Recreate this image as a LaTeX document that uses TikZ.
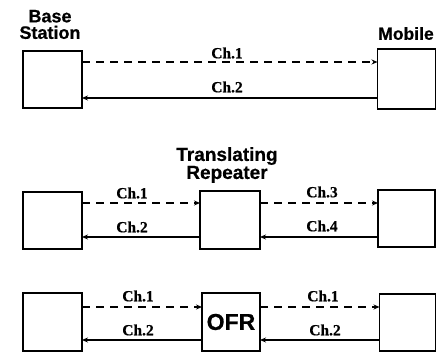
\documentclass[tikz,border=0pt]{standalone}
\usepackage{fontspec}
\setmainfont{Liberation Serif}
\newfontfamily\headfont[FakeBold=0.6]{Liberation Sans Bold}
\newfontfamily\chfont[FakeBold=0.4]{Liberation Serif Bold}
\usetikzlibrary{arrows.meta}
\begin{document}
\begin{tikzpicture}[x=1pt,y=-1pt,
  unit/.style={draw,line width=1.7pt,inner sep=0pt,outer sep=0pt},
  fwd/.style={line width=1.9pt,dash pattern=on 8pt off 6pt,-{Stealth[length=6pt,width=5pt]}},
  bwd/.style={line width=1.9pt,-{Stealth[length=6pt,width=5pt]}},
  chlab/.style={font=\chfont\fontsize{15.5}{16}\selectfont,inner sep=0pt},
  head/.style={font=\headfont\fontsize{18}{16.5}\selectfont,align=center,inner sep=0pt}]
\useasboundingbox (0,0) rectangle (436,352);
% row 1
\node[unit,minimum width=59pt,minimum height=57pt] (b1) at (52.5,79.5) {};
\node[unit,minimum width=58pt,minimum height=60pt] (m1) at (406.5,79) {};
\node[head] (bs) at (50,24.5) {Base\\Station};
\node[head,font=\headfont\fontsize{17.5}{15}\selectfont] (mob) at (406,33.5) {Mobile};
\draw[fwd] (b1.east |- 0,62) -- (m1.west |- 0,62);
\draw[bwd] (m1.west |- 0,98) -- (b1.east |- 0,98);
\node[chlab] (l11) at (227,53) {Ch.1};
\node[chlab] (l12) at (227,87) {Ch.2};
% row 2
\node[unit,minimum width=59pt,minimum height=57pt] (b2) at (52.5,220.5) {};
\node[unit,minimum width=60pt,minimum height=58pt] (r2) at (230,220) {};
\node[unit,minimum width=57pt,minimum height=57pt] (m2) at (406.5,218.5) {};
\node[head,font=\headfont\fontsize{19}{18}\selectfont] (tr) at (227,165) {Translating\\Repeater};
\draw[fwd] (b2.east |- 0,203) -- (r2.west |- 0,203);
\draw[fwd] (r2.east |- 0,203) -- (m2.west |- 0,203);
\draw[bwd] (r2.west |- 0,237) -- (b2.east |- 0,237);
\draw[bwd] (m2.west |- 0,237) -- (r2.east |- 0,237);
\node[chlab] (l21) at (132,193) {Ch.1};
\node[chlab] (l22) at (132,227) {Ch.2};
\node[chlab] (l23) at (322,192) {Ch.3};
\node[chlab] (l24) at (322,226) {Ch.4};
% row 3
\node[unit,minimum width=59pt,minimum height=58pt] (b3) at (52.5,322) {};
\node[unit,minimum width=58pt,minimum height=58pt,font=\headfont\fontsize{23}{24}\selectfont] (r3) at (231,322) {OFR};
\node[unit,minimum width=56pt,minimum height=57pt] (m3) at (407.5,322.5) {};
\draw[fwd] (b3.east |- 0,307) -- (r3.west |- 0,307);
\draw[fwd] (r3.east |- 0,307) -- (m3.west |- 0,307);
\draw[bwd] (r3.west |- 0,340) -- (b3.east |- 0,340);
\draw[bwd] (m3.west |- 0,340) -- (r3.east |- 0,340);
\node[chlab] (l31) at (138,296) {Ch.1};
\node[chlab] (l32) at (138,330) {Ch.2};
\node[chlab] (l33) at (323,296) {Ch.1};
\node[chlab] (l34) at (325,330) {Ch.2};
\end{tikzpicture}
\end{document}
